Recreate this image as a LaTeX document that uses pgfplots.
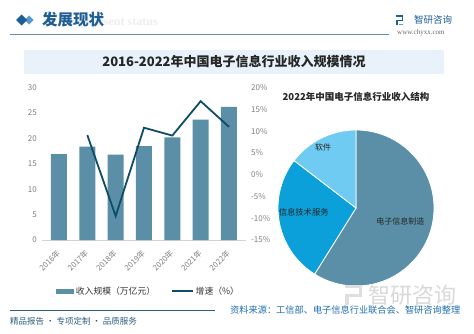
\documentclass[border=0pt]{standalone}
\usepackage{pgfplots}
\pgfplotsset{compat=1.18}
\usepackage{fontspec}
\setmainfont{Noto Sans CJK SC}
\newfontfamily\serif{Liberation Serif}
\definecolor{barc}{HTML}{5A8FA7}
\definecolor{linec}{HTML}{0F4C68}
\definecolor{servc}{HTML}{0BA0DA}
\definecolor{softc}{HTML}{6FCBF1}
\definecolor{hblue}{HTML}{1F5D95}
\definecolor{lblue}{HTML}{5B9BD5}
\definecolor{band}{HTML}{E9F2FA}
\definecolor{tickc}{HTML}{7F7F7F}
\definecolor{foot}{HTML}{2E5E80}
\definecolor{srcc}{HTML}{1F6FB0}
\begin{document}
\begin{tikzpicture}[x=1pt,y=1pt]
\fill[white] (0,0) rectangle (474,333);
% header
\fill[lblue] (29,317.5) -- (33.5,313) -- (29,308.5) -- (24.5,313) -- cycle;
\fill[hblue] (21.5,318.5) -- (27,313) -- (21.5,307.5) -- (16,313) -- cycle;
\node[anchor=west, inner sep=0pt, text=gray!14, font=\serif\bfseries\fontsize{12}{12}\selectfont] at (86,311) {Present status};
\node[anchor=west, inner sep=0pt, text=hblue, font=\bfseries\fontsize{15.5}{16}\selectfont] at (42,313) {发展现状};
\draw[hblue!70, line width=0.6pt] (10,299) -- (389,299);
\fill[hblue] (396,316) rectangle (403,317.5);
\fill[hblue] (401.5,312) rectangle (403,317.5);
\fill[hblue] (396,312) rectangle (403,313.5);
\fill[hblue] (396,308) rectangle (397.5,313.5);
\fill[lblue] (399,308) rectangle (403,309.5);
\node[anchor=west, inner sep=0pt, text=hblue, font=\fontsize{9.5}{10}\selectfont] at (414,313) {智研咨询};
\node[anchor=west, inner sep=0pt, text=gray!80!black, font=\serif\fontsize{7}{7}\selectfont] at (397,300) {www.chyxx.com};
% title band
\fill[band] (24,259) rectangle (444,283);
\node[font=\bfseries\fontsize{13}{13}\selectfont, text=black!85] at (234,271) {2016-2022年中国电子信息行业收入规模情况};
% bar axis
\begin{axis}[
  at={(42pt,93pt)}, anchor=south west,
  scale only axis, width=204pt, height=152.3pt,
  xmin=-0.6, xmax=6.6, ymin=0, ymax=30,
  axis x line*=bottom, axis y line*=left,
  x axis line style={draw=gray!35, line width=0.6pt},
  y axis line style={draw=none},
  major tick length=0pt,
  xtick={0,1,2,3,4,5,6},
  xticklabels={2016年,2017年,2018年,2019年,2020年,2021年,2022年},
  xticklabel style={xshift=-3pt, yshift=-9pt, rotate=45, anchor=north east, inner sep=0pt, font=\fontsize{7.8}{8}\selectfont, text=tickc},
  ytick={0,5,...,30},
  yticklabel style={anchor=east, inner sep=0pt, xshift=-5pt, font=\fontsize{8}{8}\selectfont, text=tickc},
  /pgf/number format/assume math mode=true,
  legend style={at={(0.522,-0.335)}, anchor=center, draw=none, fill=none,
    font=\fontsize{8.8}{9}\selectfont, text=black!80, legend columns=2,
    /tikz/every even column/.append style={column sep=14pt},
    inner sep=0pt, legend cell align=left},
]
\addplot[ybar, bar width=16pt, fill=barc, draw=none,
  legend image code/.code={\fill[barc] (0pt,-2.5pt) rectangle (18pt,2.5pt);}]
  coordinates {(0,16.9) (1,18.4) (2,16.8) (3,18.5) (4,20.2) (5,23.7) (6,26.2)};
\addlegendentry{收入规模（万亿元）}
\addlegendimage{legend image code/.code={\draw[linec, line width=1.6pt] (0pt,0pt) -- (21pt,0pt);}}
\addlegendentry{增速（\%）}
\end{axis}
% line axis
\begin{axis}[
  at={(42pt,93pt)}, anchor=south west,
  scale only axis, width=204pt, height=152.3pt,
  xmin=-0.6, xmax=6.6, ymin=-15, ymax=20,
  hide x axis, axis y line*=right,
  y axis line style={draw=none},
  major tick length=0pt,
  ytick={-15,-10,...,20},
  yticklabel={\pgfmathprintnumber{\tick}\%},
  yticklabel style={anchor=west, inner sep=0pt, xshift=5pt, font=\fontsize{8}{8}\selectfont, text=tickc},
  /pgf/number format/assume math mode=true,
]
\addplot[linec, line width=1.8pt, mark=none]
  coordinates {(1,9.1) (2,-9.5) (3,10.8) (4,9.0) (5,16.9) (6,11.0)};
\end{axis}
% pie
\pgfmathsetmacro{\va}{58.9}
\pgfmathsetmacro{\vb}{26.5}
\pgfmathsetmacro{\vc}{14.6}
\pgfmathsetmacro{\aA}{90-3.6*\va}
\pgfmathsetmacro{\aB}{\aA-3.6*\vb}
\pgfmathsetmacro{\aC}{\aB-3.6*\vc}
\node[font=\bfseries\fontsize{9.5}{10}\selectfont, text=black!85] at (356,236) {2022年中国电子信息行业收入结构};
\begin{axis}[
  at={(356pt,125pt)}, anchor=center,
  scale only axis, width=156pt, height=156pt,
  xmin=-1, xmax=1, ymin=-1, ymax=1, hide axis, clip=false,
]
\fill[barc, draw=white, line width=0.8pt] (axis cs:0,0) -- ++(90:78pt) arc[start angle=90, end angle=\aA, radius=78pt] -- cycle;
\fill[servc, draw=white, line width=0.8pt] (axis cs:0,0) -- ++(\aA:78pt) arc[start angle=\aA, end angle=\aB, radius=78pt] -- cycle;
\fill[softc, draw=white, line width=0.8pt] (axis cs:0,0) -- ++(\aB:78pt) arc[start angle=\aB, end angle=\aC, radius=78pt] -- cycle;
\node[font=\fontsize{8}{8}\selectfont, text=black!85] at (axis cs:-0.42,0.77) {软件};
\node[font=\fontsize{8.3}{8}\selectfont, text=black!85] at (axis cs:-0.67,-0.06) {信息技术服务};
\node[font=\fontsize{8}{8}\selectfont, text=black!85] at (axis cs:0.57,-0.17) {电子信息制造};
\end{axis}
% watermark
\node[anchor=west, inner sep=0pt, text=gray!30, font=\fontsize{22}{22}\selectfont] at (368,38) {智研咨询};
\fill[gray!25] (345,45) rectangle (362,48);
\fill[gray!25] (358.5,38) rectangle (362,48);
\fill[gray!25] (345,36) rectangle (362,39);
\fill[gray!25] (345,28) rectangle (348.5,39);
% footer
\draw[foot, line width=0.6pt] (10,23) -- (215,23);
\node[anchor=west, inner sep=0pt, text=srcc, font=\fontsize{9.2}{9}\selectfont] at (230,22.5) {资料来源：工信部、电子信息行业联合会、智研咨询整理};
\node[anchor=west, inner sep=0pt, text=foot, font=\fontsize{8.5}{9}\selectfont] at (10,12) {精品报告 · 专项定制 · 品质服务};
\end{tikzpicture}
\end{document}
